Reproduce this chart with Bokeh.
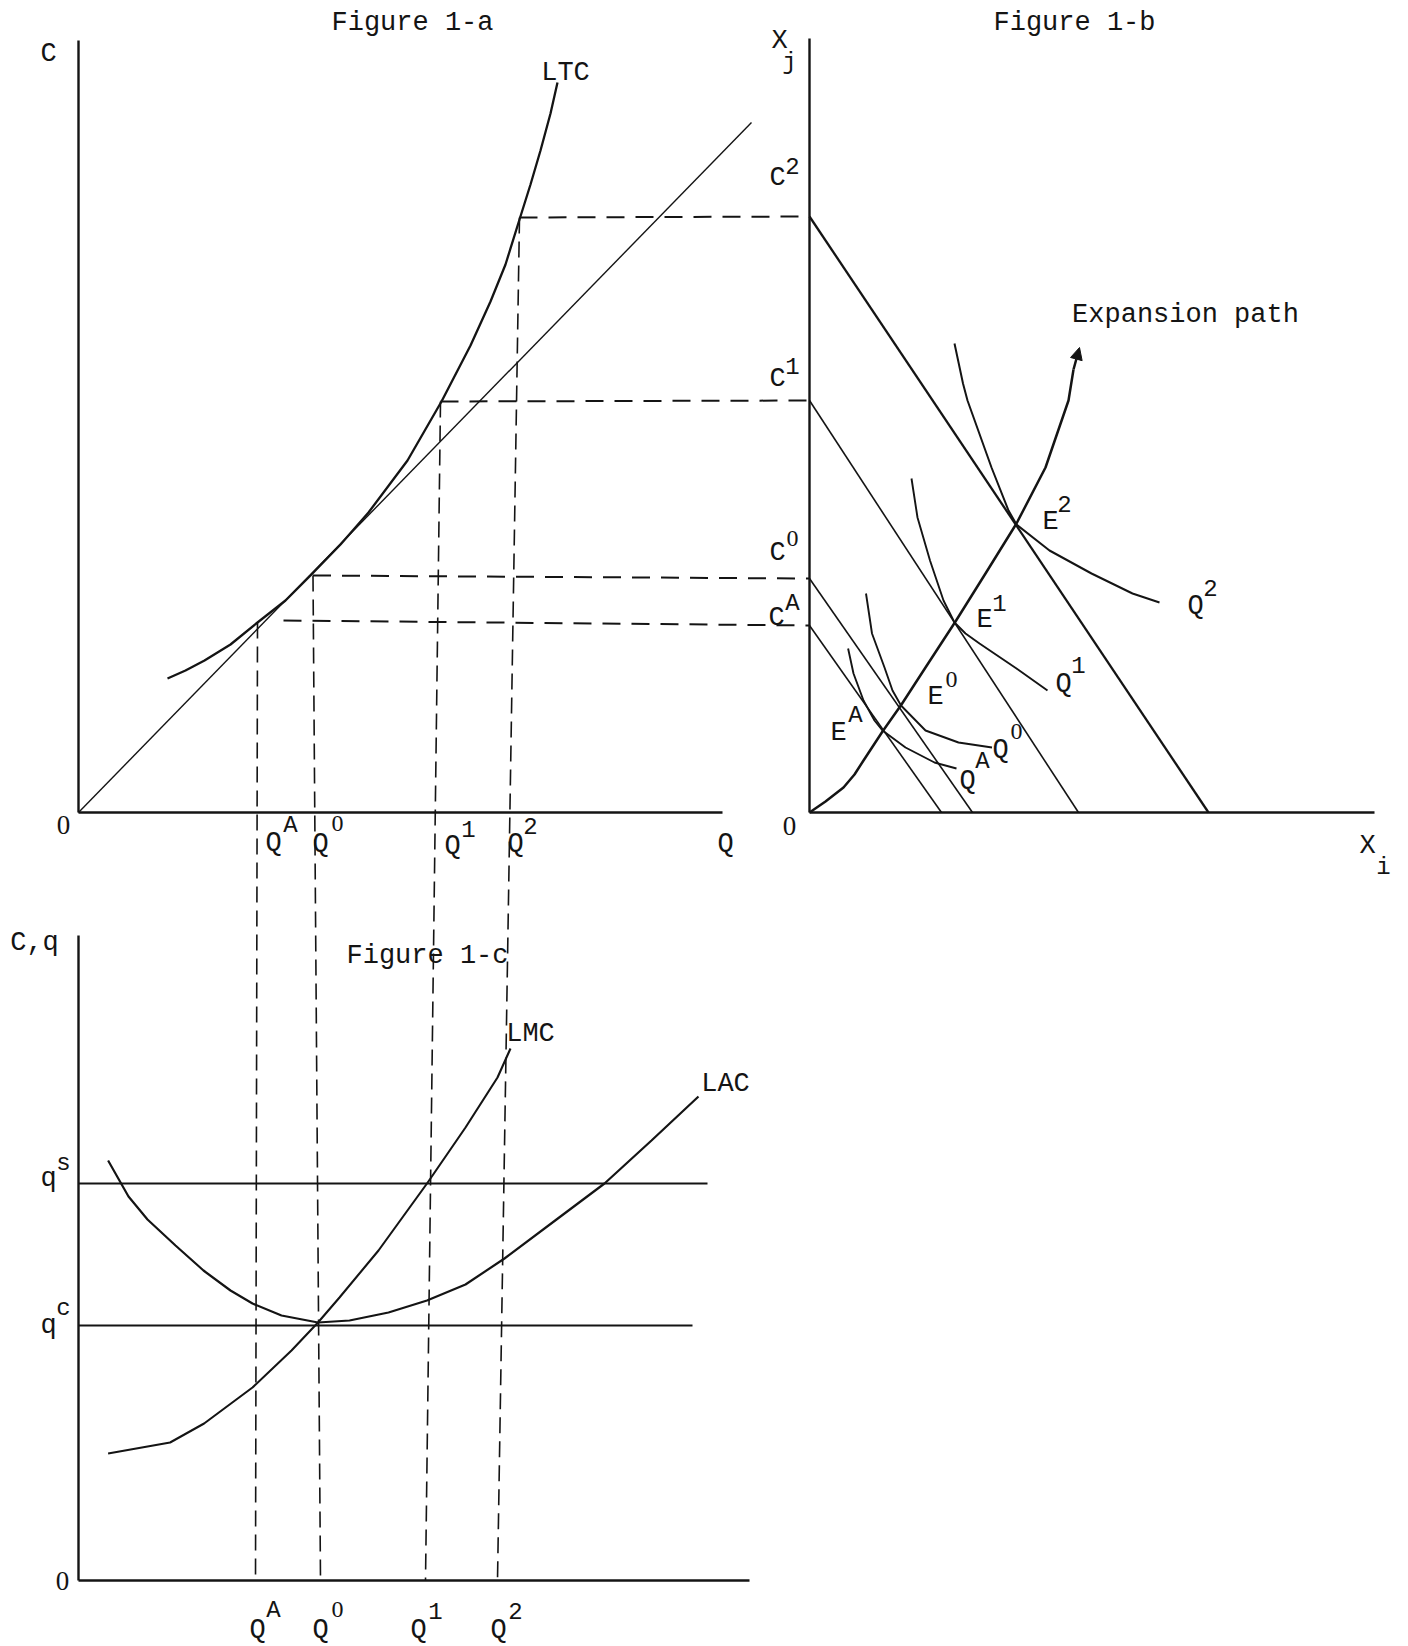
from bokeh.plotting import figure
from bokeh.models import Range1d, Arrow, NormalHead
from bokeh.core.properties import value
from bokeh.embed import file_html
from bokeh.resources import INLINE

# ====================== values (diagram units) ======================
# ---- Figure 1-a : long-run total cost (Q, C) ----
A_Q_AXIS_MAX = 64.4
A_C_AXIS_MAX = 77.2
LTC_Q = [8.9, 10.7, 12.6, 15.2, 17.9, 20.7, 23.2, 26.2, 29.0, 32.9, 36.3, 39.2,
         41.2, 42.7, 44.1, 45.2, 46.2, 47.2, 47.9]
LTC_C = [13.4, 14.2, 15.2, 16.8, 19.0, 21.2, 23.7, 26.8, 30.0, 35.2, 41.1, 46.7,
         51.1, 54.8, 59.3, 62.8, 66.2, 69.9, 73.0]
RAY_Q = [0.0, 67.3]
RAY_C = [0.0, 69.0]
COST_LEVELS = ["C2", "C1", "C0", "CA"]
LEVEL_Q_FROM = [44.1, 36.2, 23.45, 20.5]
LEVEL_C_AT_LTC = [59.5, 41.1, 23.7, 19.2]
LEVEL_C_AT_AXIS = [59.6, 41.2, 23.4, 18.7]
OUTPUTS = ["QA", "Q0", "Q1", "Q2"]
OUT_Q_TOP = [17.9, 23.45, 36.2, 44.1]
OUT_C_TOP = [19.0, 23.7, 41.1, 59.5]
OUT_Q_BOTTOM = [17.7, 24.2, 34.7, 41.9]

# ---- Figure 1-b : factor space (Xi, Xj) ----
B_XI_AXIS_MAX = 56.5
B_XJ_AXIS_MAX = 77.4
ISOCOST_XJ0 = [59.6, 41.2, 23.4, 18.7]   # C2, C1, C0, CA
ISOCOST_XI0 = [39.9, 26.9, 16.3, 13.2]
EXP_XI = [0.0, 1.6, 3.4, 4.5, 5.4, 7.3, 9.2, 11.6, 14.6, 17.6, 20.7, 23.6, 25.9, 26.4]
EXP_XJ = [0.0, 1.1, 2.5, 3.8, 5.2, 8.1, 10.8, 14.5, 19.1, 23.9, 28.9, 34.5, 41.2, 44.3]
EXP_TIP = (27.0, 46.5)
ISO_Q2_XI = [14.5, 15.35, 15.8, 18.2, 19.9, 20.7, 24.0, 28.2, 32.3, 35.0]
ISO_Q2_XJ = [46.9, 42.9, 41.2, 34.5, 30.2, 28.8, 26.2, 23.9, 21.9, 21.0]
ISO_Q1_XI = [10.2, 10.8, 12.05, 13.4, 14.5, 15.6, 17.0, 20.7, 23.8]
ISO_Q1_XJ = [33.4, 29.5, 25.2, 21.2, 19.0, 17.9, 16.9, 14.4, 12.2]
ISO_Q0_XI = [5.65, 6.25, 7.5, 8.3, 9.15, 11.6, 14.9, 18.25]
ISO_Q0_XJ = [21.9, 17.9, 14.5, 12.2, 10.7, 8.2, 7.0, 6.5]
ISO_QA_XI = [3.86, 4.4, 5.4, 6.5, 7.3, 9.6, 12.5, 14.7]
ISO_QA_XJ = [16.4, 13.9, 11.2, 9.2, 8.2, 6.5, 5.0, 4.4]

# ---- Figure 1-c : unit costs (Q, C,q) ----
C_Q_AXIS_MAX = 67.1
C_V_AXIS_MAX = 64.5
Q_S, Q_S_END = 39.7, 62.9
Q_C, Q_C_END = 25.5, 61.4
LMC_Q = [2.96, 9.16, 12.56, 17.4, 21.3, 23.95, 26.1, 30.0, 34.85, 38.7, 41.9, 43.2]
LMC_V = [12.7, 13.8, 15.7, 19.3, 23.0, 25.8, 28.3, 33.0, 39.7, 45.3, 50.3, 53.2]
LAC_Q = [2.96, 5.0, 6.9, 9.7, 12.5, 15.2, 17.4, 20.3, 23.95, 27.1, 31.0, 34.85,
         38.7, 42.6, 47.8, 52.6, 57.3, 62.0]
LAC_V = [42.0, 38.4, 36.1, 33.5, 31.0, 29.0, 27.7, 26.5, 25.8, 26.0, 26.8, 28.0,
         29.6, 32.2, 36.1, 39.7, 44.0, 48.4]

# ====================== layout (page pixels) ======================
PX = 10.0                 # pixels per diagram unit
W, H = 1404, 1644
PAGE_L, PAGE_T = 0, 0
PAGE_R, PAGE_B = PAGE_L + W, PAGE_T + H
OX_A, OX_B = 78, 809      # x of the Q axis origin (1-a, 1-c) and of the Xi origin (1-b)
OY_TOP, OY_C = 812, 1580  # y of the 1-a / 1-b origin and of the 1-c origin

x_left = Range1d((PAGE_L - OX_A) / PX, (PAGE_R - OX_A) / PX)
x_right = Range1d((PAGE_L - OX_B) / PX, (PAGE_R - OX_B) / PX)
y_top = Range1d((OY_TOP - PAGE_B) / PX, (OY_TOP - PAGE_T) / PX)
y_bot = Range1d((OY_C - PAGE_B) / PX, (OY_C - PAGE_T) / PX)
B_AXIS_IN_A = (OX_B - OX_A) / PX
C_BASE_IN_A = (OY_TOP - OY_C) / PX

INK = "#141414"
MONO = value("Liberation Mono")
SERIF = value("Liberation Serif")
BIG, SMALL = "27px", "24px"

p = figure(width=W, height=H, x_range=x_left, y_range=y_top,
           output_backend="svg", toolbar_location=None,
           x_axis_type=None, y_axis_type=None, min_border=0,
           outline_line_color=None, background_fill_color="white",
           border_fill_color="white")
p.extra_x_ranges = {"xr": x_right}
p.extra_y_ranges = {"yb": y_bot}

PB = dict(x_range_name="xr")
PC = dict(y_range_name="yb")


def txt(xs, ys, texts, size, font=MONO, **rn):
    p.text(x=xs, y=ys, text=texts, text_font=font, text_font_size=value(size),
           text_align="center", text_baseline="middle", text_color=INK, **rn)


# ---------------- Figure 1-a ----------------
p.line([0, 0], [0, A_C_AXIS_MAX], line_color=INK, line_width=2.4)
p.line([0, A_Q_AXIS_MAX], [0, 0], line_color=INK, line_width=2.6)
p.line(RAY_Q, RAY_C, line_color=INK, line_width=1.4)
p.line(LTC_Q, LTC_C, line_color=INK, line_width=2.3)
p.segment(x0=LEVEL_Q_FROM, y0=LEVEL_C_AT_LTC,
          x1=[B_AXIS_IN_A] * len(LEVEL_Q_FROM), y1=LEVEL_C_AT_AXIS,
          line_color=INK, line_width=2.0, line_dash="18 11")
p.segment(x0=OUT_Q_TOP, y0=OUT_C_TOP,
          x1=OUT_Q_BOTTOM, y1=[C_BASE_IN_A] * len(OUT_Q_TOP),
          line_color=INK, line_width=1.6, line_dash="16 8")

txt([33.4, -3.0, 48.7, 64.7], [79.0, 75.9, 74.0, -3.1],
    ["Figure 1-a", "C", "LTC", "Q"], BIG)
txt([-1.5], [-1.2], ["0"], BIG, font=SERIF)
txt([19.5, 24.2, 37.4, 43.7], [-3.0, -3.1, -3.3, -3.1], ["Q", "Q", "Q", "Q"], BIG)
txt([21.2, 39.0, 45.2], [-1.3, -1.6, -1.3], ["A", "1", "2"], SMALL)
txt([25.9], [-1.1], ["0"], SMALL, font=SERIF)

# ---------------- Figure 1-b ----------------
p.line([0, 0], [0, B_XJ_AXIS_MAX], line_color=INK, line_width=2.4, **PB)
p.line([0, B_XI_AXIS_MAX], [0, 0], line_color=INK, line_width=2.6, **PB)
p.segment(x0=[0] * 4, y0=ISOCOST_XJ0, x1=ISOCOST_XI0, y1=[0] * 4,
          line_color=INK, line_width=[2.3, 1.6, 1.6, 1.6], **PB)
p.line(EXP_XI, EXP_XJ, line_color=INK, line_width=2.5, **PB)
p.add_layout(Arrow(end=NormalHead(size=12, fill_color=INK, line_color=INK),
                   x_start=EXP_XI[-1], y_start=EXP_XJ[-1],
                   x_end=EXP_TIP[0], y_end=EXP_TIP[1],
                   line_color=INK, line_width=2.5, x_range_name="xr"))
p.line(ISO_Q2_XI, ISO_Q2_XJ, line_color=INK, line_width=2.0, **PB)
p.line(ISO_Q1_XI, ISO_Q1_XJ, line_color=INK, line_width=1.9, **PB)
p.line(ISO_Q0_XI, ISO_Q0_XJ, line_color=INK, line_width=1.9, **PB)
p.line(ISO_QA_XI, ISO_QA_XJ, line_color=INK, line_width=1.9, **PB)

txt([26.5, -3.0, 55.8, -3.2, -3.2, -3.2, -3.3, 37.6],
    [79.0, 77.2, -3.3, 63.5, 43.4, 26.0, 19.5, 49.8],
    ["Figure 1-b", "X", "X", "C", "C", "C", "C", "Expansion path"], BIG, **PB)
txt([-2.0], [-1.3], ["0"], BIG, font=SERIF, **PB)
txt([2.9, 12.6, 17.5, 24.1, 38.6, 25.4, 19.1, 15.8],
    [8.0, 11.6, 19.3, 29.1, 20.7, 12.9, 6.3, 3.2],
    ["E", "E", "E", "E", "Q", "Q", "Q", "Q"], BIG, **PB)
txt([-2.0, 57.4, -1.7, -1.7, -1.7, 4.6, 19.0, 25.5, 40.1, 26.9, 17.3],
    [75.0, -5.5, 64.7, 44.7, 20.9, 9.7, 21.0, 30.9, 22.5, 14.8, 5.1],
    ["j", "i", "2", "1", "A", "A", "1", "2", "2", "1", "A"], SMALL, **PB)
txt([-1.7, 14.2, 20.7], [27.4, 13.3, 8.1], ["0", "0", "0"], SMALL, font=SERIF, **PB)

# ---------------- Figure 1-c ----------------
p.line([0, 0], [0, C_V_AXIS_MAX], line_color=INK, line_width=2.4, **PC)
p.line([0, C_Q_AXIS_MAX], [0, 0], line_color=INK, line_width=2.6, **PC)
p.line([0, Q_S_END], [Q_S, Q_S], line_color=INK, line_width=1.8, **PC)
p.line([0, Q_C_END], [Q_C, Q_C], line_color=INK, line_width=1.8, **PC)
p.line(LMC_Q, LMC_V, line_color=INK, line_width=2.1, **PC)
p.line(LAC_Q, LAC_V, line_color=INK, line_width=2.2, **PC)

txt([-4.4, 34.9, -3.0, -3.0, 45.2, 64.7],
    [63.8, 62.5, 40.2, 25.5, 54.7, 49.7],
    ["C,q", "Figure 1-c", "q", "q", "LMC", "LAC"], BIG, **PC)
txt([-1.6], [0.0], ["0"], BIG, font=SERIF, **PC)
txt([17.9, 24.2, 34.0, 42.0], [-4.9, -4.9, -4.9, -4.9], ["Q", "Q", "Q", "Q"], BIG, **PC)
txt([-1.5, -1.5, 19.5, 35.7, 43.7], [41.7, 27.2, -3.0, -3.0, -3.0],
    ["s", "c", "A", "1", "2"], SMALL, **PC)
txt([25.9], [-2.9], ["0"], SMALL, font=SERIF, **PC)

open("out.html", "w").write(file_html(p, INLINE))
